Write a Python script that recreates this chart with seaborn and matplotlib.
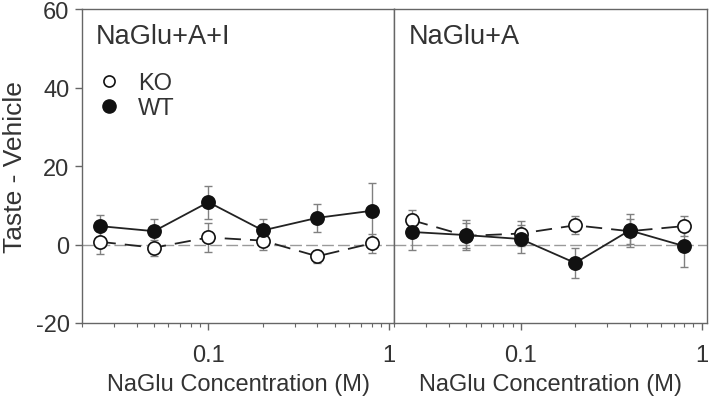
import numpy as np
import pandas as pd
import matplotlib
matplotlib.use("Agg")
import matplotlib.pyplot as plt
from matplotlib.lines import Line2D
from matplotlib.ticker import LogLocator, FixedLocator, FixedFormatter, NullFormatter
import seaborn as sns

# concentrations (M)
conc = [0.025, 0.05, 0.1, 0.2, 0.4, 0.8]

# panel 1: NaGlu+A+I
ai_wt = [4.7, 3.4, 10.8, 3.6, 6.8, 8.6]
ai_wt_err = [2.8, 3.0, 4.2, 3.0, 3.6, 7.0]
ai_ko = [0.7, -0.8, 1.8, 1.0, -3.0, 0.3]
ai_ko_err = [3.2, 2.0, 3.8, 2.5, 1.6, 2.4]

# panel 2: NaGlu+A
a_wt = [3.2, 2.4, 1.4, -4.7, 3.6, -0.4]
a_wt_err = [4.6, 3.8, 3.6, 3.8, 4.2, 5.3]
a_ko = [6.2, 2.2, 2.8, 4.9, 3.4, 4.7]
a_ko_err = [2.7, 3.2, 3.1, 2.3, 3.2, 2.5]

panel_titles = ["NaGlu+A+I", "NaGlu+A"]

sns.set_style("ticks")
plt.rcParams['font.family'] = ['Arial', 'Liberation Sans', 'DejaVu Sans']
plt.rcParams['axes.unicode_minus'] = False
txt = "#333333"
spine_c = "#666666"

fig, axes = plt.subplots(1, 2, figsize=(7.14, 4.06), dpi=100, sharey=True)
fig.subplots_adjust(left=0.115, right=0.99, top=0.975, bottom=0.202, wspace=0)

panels = [(ai_wt, ai_wt_err, ai_ko, ai_ko_err), (a_wt, a_wt_err, a_ko, a_ko_err)]

for i, (ax, (wt, wt_e, ko, ko_e)) in enumerate(zip(axes, panels)):
    ax.axhline(0, color="#9a9a9a", lw=1.0, dashes=(8.5, 3), zorder=1)

    # error bars
    ax.errorbar(conc, ko, yerr=ko_e, fmt="none", ecolor="#808080", elinewidth=1,
                capsize=3, capthick=1, zorder=2)
    ax.errorbar(conc, wt, yerr=wt_e, fmt="none", ecolor="#808080", elinewidth=1,
                capsize=3, capthick=1, zorder=2)

    df_ko = pd.DataFrame({"conc": conc, "val": ko})
    df_wt = pd.DataFrame({"conc": conc, "val": wt})
    sns.lineplot(data=df_ko, x="conc", y="val", ax=ax, color="#222222", lw=1.3,
                 marker="o", markersize=9.5, markerfacecolor="white",
                 markeredgecolor="#111111", markeredgewidth=1.2, zorder=3)
    ax.lines[-1].set_dashes((9, 5))
    sns.lineplot(data=df_wt, x="conc", y="val", ax=ax, color="#222222", lw=1.3,
                 marker="o", markersize=9.5, markerfacecolor="#111111",
                 markeredgecolor="#111111", markeredgewidth=1.2, zorder=4)

    ax.set_xscale("log")
    ax.set_xlim(0.02, 1.07)
    ax.set_ylim(-20, 60)
    ax.xaxis.set_major_locator(FixedLocator([0.1, 1]))
    ax.xaxis.set_major_formatter(FixedFormatter(["0.1", "1"]))
    ax.xaxis.set_minor_locator(LogLocator(base=10, subs=np.arange(2, 10), numticks=20))
    ax.xaxis.set_minor_formatter(NullFormatter())
    ax.set_xlabel("NaGlu Concentration (M)", fontsize=17, color=txt, labelpad=5)
    ax.set_ylabel("")
    ax.tick_params(axis="x", which="major", length=5, width=1, color=spine_c,
                   labelsize=17, labelcolor=txt, pad=10)
    ax.tick_params(axis="x", which="minor", length=3, width=0.8, color=spine_c)
    for s in ax.spines.values():
        s.set_color(spine_c)
        s.set_linewidth(1)
    ax.text(0.045, 0.915, panel_titles[i], transform=ax.transAxes, fontsize=19.5,
            color=txt, va="center", ha="left")

axes[0].set_yticks([-20, 0, 20, 40, 60])
axes[0].tick_params(axis="y", length=5, width=1, color=spine_c, labelsize=17,
                    labelcolor=txt, pad=4)
axes[1].tick_params(axis="y", left=False)
axes[0].set_ylabel("Taste - Vehicle", fontsize=19, color=txt, labelpad=6)

handles = [
    Line2D([], [], ls="none", marker="o", markersize=8, markerfacecolor="white",
           markeredgecolor="#111111", markeredgewidth=1.2),
    Line2D([], [], ls="none", marker="o", markersize=9.5, markerfacecolor="#111111",
           markeredgecolor="#111111"),
]
axes[0].legend(handles, ["KO", "WT"], loc="upper left", bbox_to_anchor=(-0.04, 0.866),
               frameon=False, fontsize=17, labelcolor=txt, handletextpad=0.5,
               labelspacing=0.12, borderaxespad=0.5, handlelength=1.5)

fig.savefig("out.png", dpi=100)
